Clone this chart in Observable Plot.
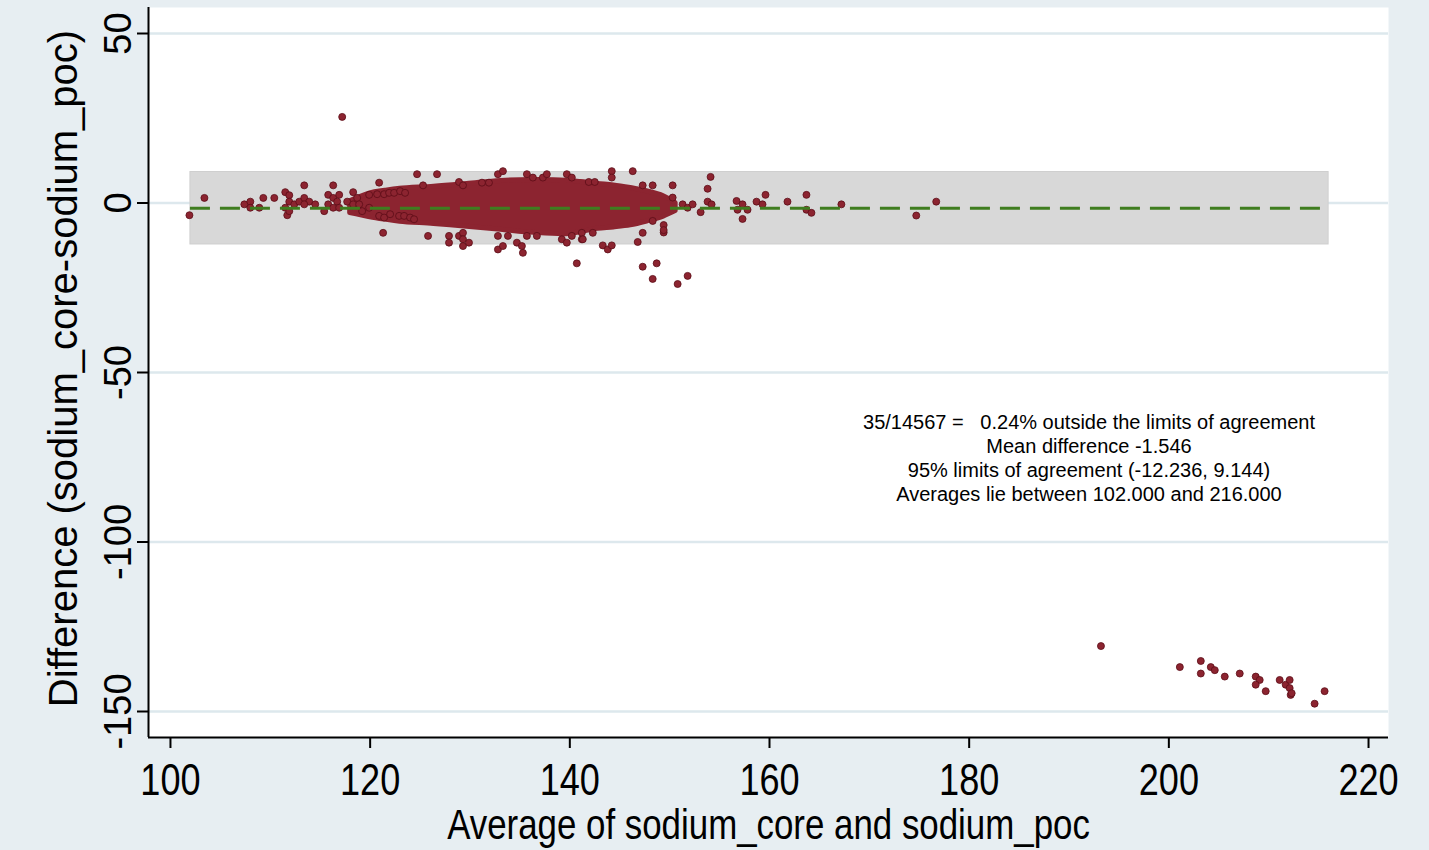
<!DOCTYPE html>
<html>
<head>
<meta charset="utf-8">
<script src="https://cdn.jsdelivr.net/npm/d3@7"></script>
<script src="https://cdn.jsdelivr.net/npm/@observablehq/plot@0.6"></script>
<style>
  html, body { margin: 0; padding: 0; background: #e7eef2; }
  #chart svg { display: block; }
</style>
</head>
<body>
<div id="chart"></div>
<script>
// ---- Data ----
const xTicks = [100, 120, 140, 160, 180, 200, 220];
const yTicks = [-150, -100, -50, 0, 50];

const meanDiff = -1.546;
const loaLower = -12.236;
const loaUpper = 9.144;
const avgMin = 102;
const avgMax = 216;

// Envelope of the dense core of ~14,500 points
const blobAvg   = [118.0, 120.0, 121.5, 123.0, 126.4, 129.7, 133.1, 136.4, 139.7, 141.1, 142.8, 144.4, 146.1, 147.8, 149.4, 150.6];
const blobUpper = [ 0.5,  2.8,   3.6,   4.2,   4.8,   5.6,   6.5,   6.8,   6.6,   6.2,   5.6,   5.2,   4.4,   3.4,   2.0,   0.0];
const blobLower = [-3.0, -4.2,  -4.9,  -5.5,  -6.2,  -7.0,  -7.9,  -8.8,  -9.2,  -8.6,  -7.6,  -7.2,  -6.6,  -5.4,  -4.0,  -2.4];

// Individual visible points: average and difference
const ptAvg = [
  101.9, 103.4, 107.4, 108.0, 108.0, 108.9, 109.3, 110.4, 111.5, 111.9, 111.9, 111.5, 111.7, 111.9,
  113.4, 112.4, 112.9, 113.4, 113.9, 113.4, 114.5, 115.4, 115.8, 115.8, 116.3, 116.3, 116.3, 116.7,
  116.9, 116.9, 117.7, 118.3, 118.3, 118.7, 118.9, 119.2, 119.9, 119.9, 120.9, 121.3, 117.2,
  120.7, 121.4, 121.9, 122.4, 123.0, 120.9, 121.4, 122.0, 122.9, 123.4, 124.0,
  124.7, 126.7, 125.3, 123.5, 128.9, 129.3, 132.8, 133.3, 135.7, 136.3, 137.3, 137.7, 139.7, 140.2,
  141.9, 142.5, 131.2, 131.9, 144.2, 144.2, 146.3, 147.3, 148.3, 150.3, 150.3,
  124.4, 125.8, 127.9, 127.9, 128.9, 129.3, 129.3, 129.3, 129.9, 132.8, 132.8, 133.3, 133.8, 134.7,
  135.2, 135.3, 135.7, 136.7, 139.2, 139.7, 140.2, 141.2, 141.2, 140.7, 142.3, 141.3, 143.3, 143.8,
  144.2, 146.8, 147.3, 148.3, 149.4, 149.4, 149.4, 147.3, 148.7, 148.3, 151.8, 150.8,
  151.3, 151.8, 152.3, 153.1, 153.8, 154.2, 153.8, 154.1, 156.7, 156.8, 157.3, 157.3, 157.8, 158.7,
  159.3, 159.6, 161.8, 163.7, 163.7, 164.2, 167.2, 174.7, 176.7,
  193.2, 201.1, 203.2, 203.2, 204.2, 204.6, 205.6, 207.1, 208.7, 209.1, 208.7, 209.7, 211.1, 211.7,
  212.1, 212.1, 212.2, 212.3, 214.6, 215.6
];
const ptDiff = [
  -3.6, 1.5, -0.4, 0.4, -1.4, -1.4, 1.5, 1.5, 3.2, 2.3, 0.4, -1.4, -3.6, -2.4,
  5.2, -0.4, 0.4, 1.5, 0.4, -0.4, -0.4, -2.4, 2.4, -0.4, 5.2, 1.5, -1.4, 0.4,
  2.4, -1.4, 0.4, 3.2, -0.4, 1.5, -0.4, -2.4, 2.4, -1.4, 6.0, -8.8, 25.4,
  2.6, 2.6, 3.0, 3.0, 3.5, -3.8, -4.3, -3.3, -3.8, -3.8, -4.3,
  8.5, 8.5, 5.2, 3.0, 6.2, 5.2, 8.5, 9.4, 8.5, 7.5, 7.5, 8.5, 8.5, 7.5,
  6.2, 6.2, 6.0, 6.0, 9.4, 7.5, 9.4, 5.2, 5.2, 5.2, 1.6,
  -4.8, -9.7, -9.7, -11.7, -9.7, -8.8, -10.7, -12.7, -11.7, -9.7, -13.7, -12.7, -9.7, -11.7,
  -12.7, -14.7, -9.7, -9.7, -10.7, -11.7, -9.7, -10.7, -8.8, -17.8, -8.8, -10.7, -12.5, -13.7,
  -12.5, -11.5, -8.8, -5.3, -6.5, -8.7, -8.0, -18.8, -17.8, -22.4, -21.5, -23.9,
  -0.4, -1.4, -0.4, -2.7, 0.4, -0.4, 4.2, 7.7, 0.6, -2.0, -0.4, -4.7, -2.0, 0.4,
  -0.4, 2.4, 0.4, 2.4, -2.0, -2.9, -0.4, -3.7, 0.4,
  -130.7, -136.9, -135.1, -138.8, -136.9, -137.8, -139.7, -138.8, -139.7, -140.7, -142.1, -144.0, -140.7, -142.1,
  -140.7, -143.1, -145.1, -144.6, -147.7, -144.0
];

const statsLines = [
  "35/14567 =\u00a0\u00a0\u00a00.24% outside the limits of agreement",
  "Mean difference -1.546",
  "95% limits of agreement (-12.236, 9.144)",
  "Averages lie between 102.000 and 216.000"
];
const statsAt = {avg: 192.0, diff: -74.9};

const xTitle = "Average of sodium_core and sodium_poc";
const yTitle = "Difference (sodium_core-sodium_poc)";

// ---- Chart ----
const xDomain = [97.8, 222.0];
const yDomain = [-157.67, 57.67];
const dotColor = "#8c2430";

const points = ptAvg.map((a, i) => ({avg: a, diff: ptDiff[i]}));
const blob = blobAvg.map((a, i) => ({avg: a, lo: blobLower[i], hi: blobUpper[i]}));

const chart = Plot.plot({
  width: 1429,
  height: 850,
  marginLeft: 148,
  marginRight: 41,
  marginTop: 7,
  marginBottom: 113,
  style: {background: "#e7eef2", color: "black", fontFamily: "Liberation Sans, Arial, sans-serif"},
  x: {domain: xDomain},
  y: {domain: yDomain},
  marks: [
    Plot.frame({fill: "white", stroke: null}),
    Plot.ruleY(yTicks, {stroke: "#dde8ed", strokeWidth: 2.5}),
    Plot.rect([{x1: avgMin, x2: avgMax, y1: loaLower, y2: loaUpper}],
      {x1: "x1", x2: "x2", y1: "y1", y2: "y2", fill: "#d8d8d8", stroke: "#cfcfcf", strokeWidth: 1}),
    Plot.areaY(blob, {x: "avg", y1: "lo", y2: "hi", curve: "catmull-rom",
      fill: dotColor, stroke: dotColor, strokeWidth: 5, strokeLinejoin: "round"}),
    Plot.dot(points, {x: "avg", y: "diff", r: 3.5, fill: dotColor, stroke: "#5c0c16", strokeWidth: 0.8}),
    Plot.ruleY([meanDiff], {x1: avgMin, x2: avgMax, stroke: "#3f7d1f", strokeWidth: 3, strokeDasharray: "20,10"}),
    // axes
    Plot.ruleX([xDomain[0]], {stroke: "black", strokeWidth: 2}),
    Plot.ruleY([yDomain[0]], {stroke: "black", strokeWidth: 2}),
    Plot.axisX({ticks: xTicks, tickSize: 11, tickPadding: 15, fontSize: 44, label: null, strokeWidth: 2}),
    Plot.axisY({ticks: yTicks, tickSize: 11, tickFormat: () => "", label: null, strokeWidth: 2}),
    Plot.text(yTicks, {y: d => d, text: d => String(d), frameAnchor: "left", dx: -30, rotate: -90,
      fontSize: 38, fill: "black", textAnchor: "middle", lineAnchor: "middle"}),
    Plot.text([yTitle], {frameAnchor: "left", dx: -84, dy: -4, rotate: -90, fontSize: 40, fill: "black",
      textAnchor: "middle", lineAnchor: "middle"}),
    Plot.text([xTitle], {frameAnchor: "bottom", dy: 88, fontSize: 42, fill: "black",
      textAnchor: "middle", lineAnchor: "middle"}),
    Plot.text([statsLines.join("\n")], {x: () => statsAt.avg, y: () => statsAt.diff,
      fontSize: 20, lineHeight: 1.2, fill: "black", textAnchor: "middle"})
  ]
});
document.getElementById("chart").appendChild(chart);

// Condense horizontal texts (x tick labels and x title) like the reference
function condense(el, ratio) {
  const len = el.getComputedTextLength();
  if (len > 0) {
    el.setAttribute("textLength", (len * ratio).toFixed(1));
    el.setAttribute("lengthAdjust", "spacingAndGlyphs");
  }
}
d3.select(chart).selectAll('g[aria-label="x-axis tick label"] text').each(function() { condense(this, 0.82); });
d3.select(chart).selectAll('g[aria-label="text"] text').each(function() {
  if (this.textContent === xTitle) condense(this, 0.83);
});
</script>
</body>
</html>
